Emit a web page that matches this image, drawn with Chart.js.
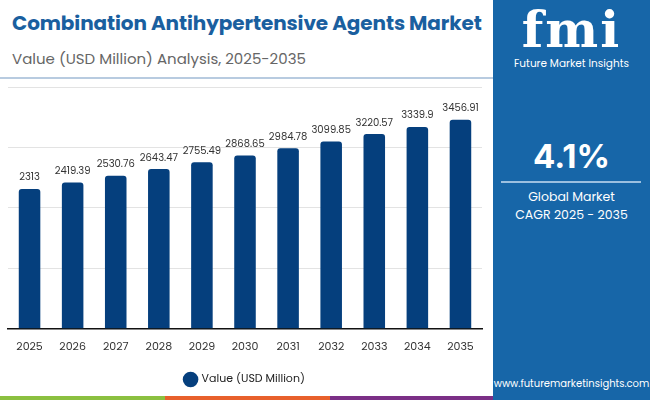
<!DOCTYPE html>
<html>
<head>
<meta charset="utf-8">
<script src="https://cdn.jsdelivr.net/npm/chart.js@4"></script>
<style>
  body { margin: 0; width: 650px; height: 400px; overflow: hidden; background: #fff; font-family: Poppins, "Open Sans", sans-serif; position: relative; }
  #title { position: absolute; left: 12px; top: 8px; font-size: 20px; font-weight: 700; color: #1a5f9f; letter-spacing: -0.1px; white-space: nowrap; }
  #subtitle { position: absolute; left: 12px; top: 47px; font-size: 15px; color: #666; white-space: nowrap; }
  #rule { position: absolute; left: 0; top: 77px; width: 493px; height: 2px; background: #b8cbe0; }
  #panel { position: absolute; left: 493px; top: 0; width: 157px; height: 400px; background: #1766a8; color: #fff; text-align: center; }
  #logo { position: absolute; left: 0; top: 2px; width: 157px; font-family: "DejaVu Serif", serif; font-weight: 700; font-size: 50px; line-height: 56px; letter-spacing: 2px; }
  #brand { position: absolute; left: 0; top: 56px; width: 157px; font-size: 10.5px; }
  #cagr { position: absolute; left: 0; top: 136px; width: 157px; font-size: 33px; font-weight: 700; font-family: Inter, sans-serif; }
  #hr { position: absolute; left: 8px; top: 181px; width: 140px; height: 2px; background: #9cc0e0; }
  #g1 { position: absolute; left: 0; top: 188px; width: 157px; font-size: 12.5px; }
  #g2 { position: absolute; left: 0; top: 206px; width: 157px; font-size: 12.5px; }
  #url { position: absolute; left: 0; top: 376px; width: 157px; font-size: 10px; }
  .stripe { position: absolute; top: 396px; height: 4px; }
  #chartbox { position: absolute; left: 0; top: 80px; width: 493px; height: 316px; }
</style>
</head>
<body>
<div id="title">Combination Antihypertensive Agents Market</div>
<div id="subtitle">Value (USD Million) Analysis, 2025-2035</div>
<div id="rule"></div>
<div id="chartbox"><canvas id="chart"></canvas></div>
<div class="stripe" style="left:0;width:165px;background:#8bc040"></div>
<div class="stripe" style="left:165px;width:165px;background:#e8602c"></div>
<div class="stripe" style="left:330px;width:163px;background:#7b2f86"></div>
<div id="panel">
  <div id="logo">fmi</div>
  <div id="brand">Future Market Insights</div>
  <div id="cagr">4.1%</div>
  <div id="hr"></div>
  <div id="g1">Global Market</div>
  <div id="g2">CAGR 2025 - 2035</div>
  <div id="url">www.futuremarketinsights.com</div>
</div>
<script>
const years = ['2025', '2026', '2027', '2028', '2029', '2030', '2031', '2032', '2033', '2034', '2035'];
const values = [2313, 2419.39, 2530.76, 2643.47, 2755.49, 2868.65, 2984.78, 3099.85, 3220.57, 3339.9, 3456.91];
const seriesName = 'Value (USD Million)';

// value labels over each bar
const barLabels = {
    id: 'barLabels',
    afterDatasetsDraw(chart) {
        const ctx = chart.ctx;
        const meta = chart.getDatasetMeta(0);
        ctx.save();
        ctx.font = '10px Poppins, "Open Sans", sans-serif';
        ctx.fillStyle = '#333';
        ctx.textAlign = 'center';
        ctx.textBaseline = 'bottom';
        meta.data.forEach((bar, i) => {
            ctx.fillText(String(values[i]), bar.x, bar.y - 6);
        });
        ctx.restore();
    }
};

new Chart(document.getElementById('chart'), {
    type: 'bar',
    data: {
        labels: years,
        datasets: [{
            label: seriesName,
            data: values,
            backgroundColor: '#053f7d',
            borderRadius: { topLeft: 3, topRight: 3 },
            borderSkipped: 'bottom',
            barPercentage: 0.5,
            categoryPercentage: 1
        }]
    },
    options: {
        responsive: true,
        maintainAspectRatio: false,
        animation: false,
        layout: { padding: { left: 8, right: 11, top: 7, bottom: 1 } },
        scales: {
            y: {
                min: 0,
                max: 4000,
                ticks: { stepSize: 1000, display: false },
                grid: { color: '#e3e3e3', drawTicks: false },
                border: { display: false }
            },
            x: {
                grid: { display: false },
                border: { color: '#111', width: 1.5 },
                ticks: { color: '#333', font: { size: 11, family: 'Poppins, "Open Sans", sans-serif' }, padding: 4 }
            }
        },
        plugins: {
            legend: {
                position: 'bottom',
                labels: {
                    usePointStyle: true,
                    pointStyle: 'circle',
                    boxWidth: 13,
                    boxHeight: 13,
                    padding: 16,
                    color: '#222',
                    font: { size: 11, family: 'Poppins, "Open Sans", sans-serif' }
                }
            },
            tooltip: { enabled: false }
        }
    },
    plugins: [barLabels]
});
</script>
</body>
</html>
